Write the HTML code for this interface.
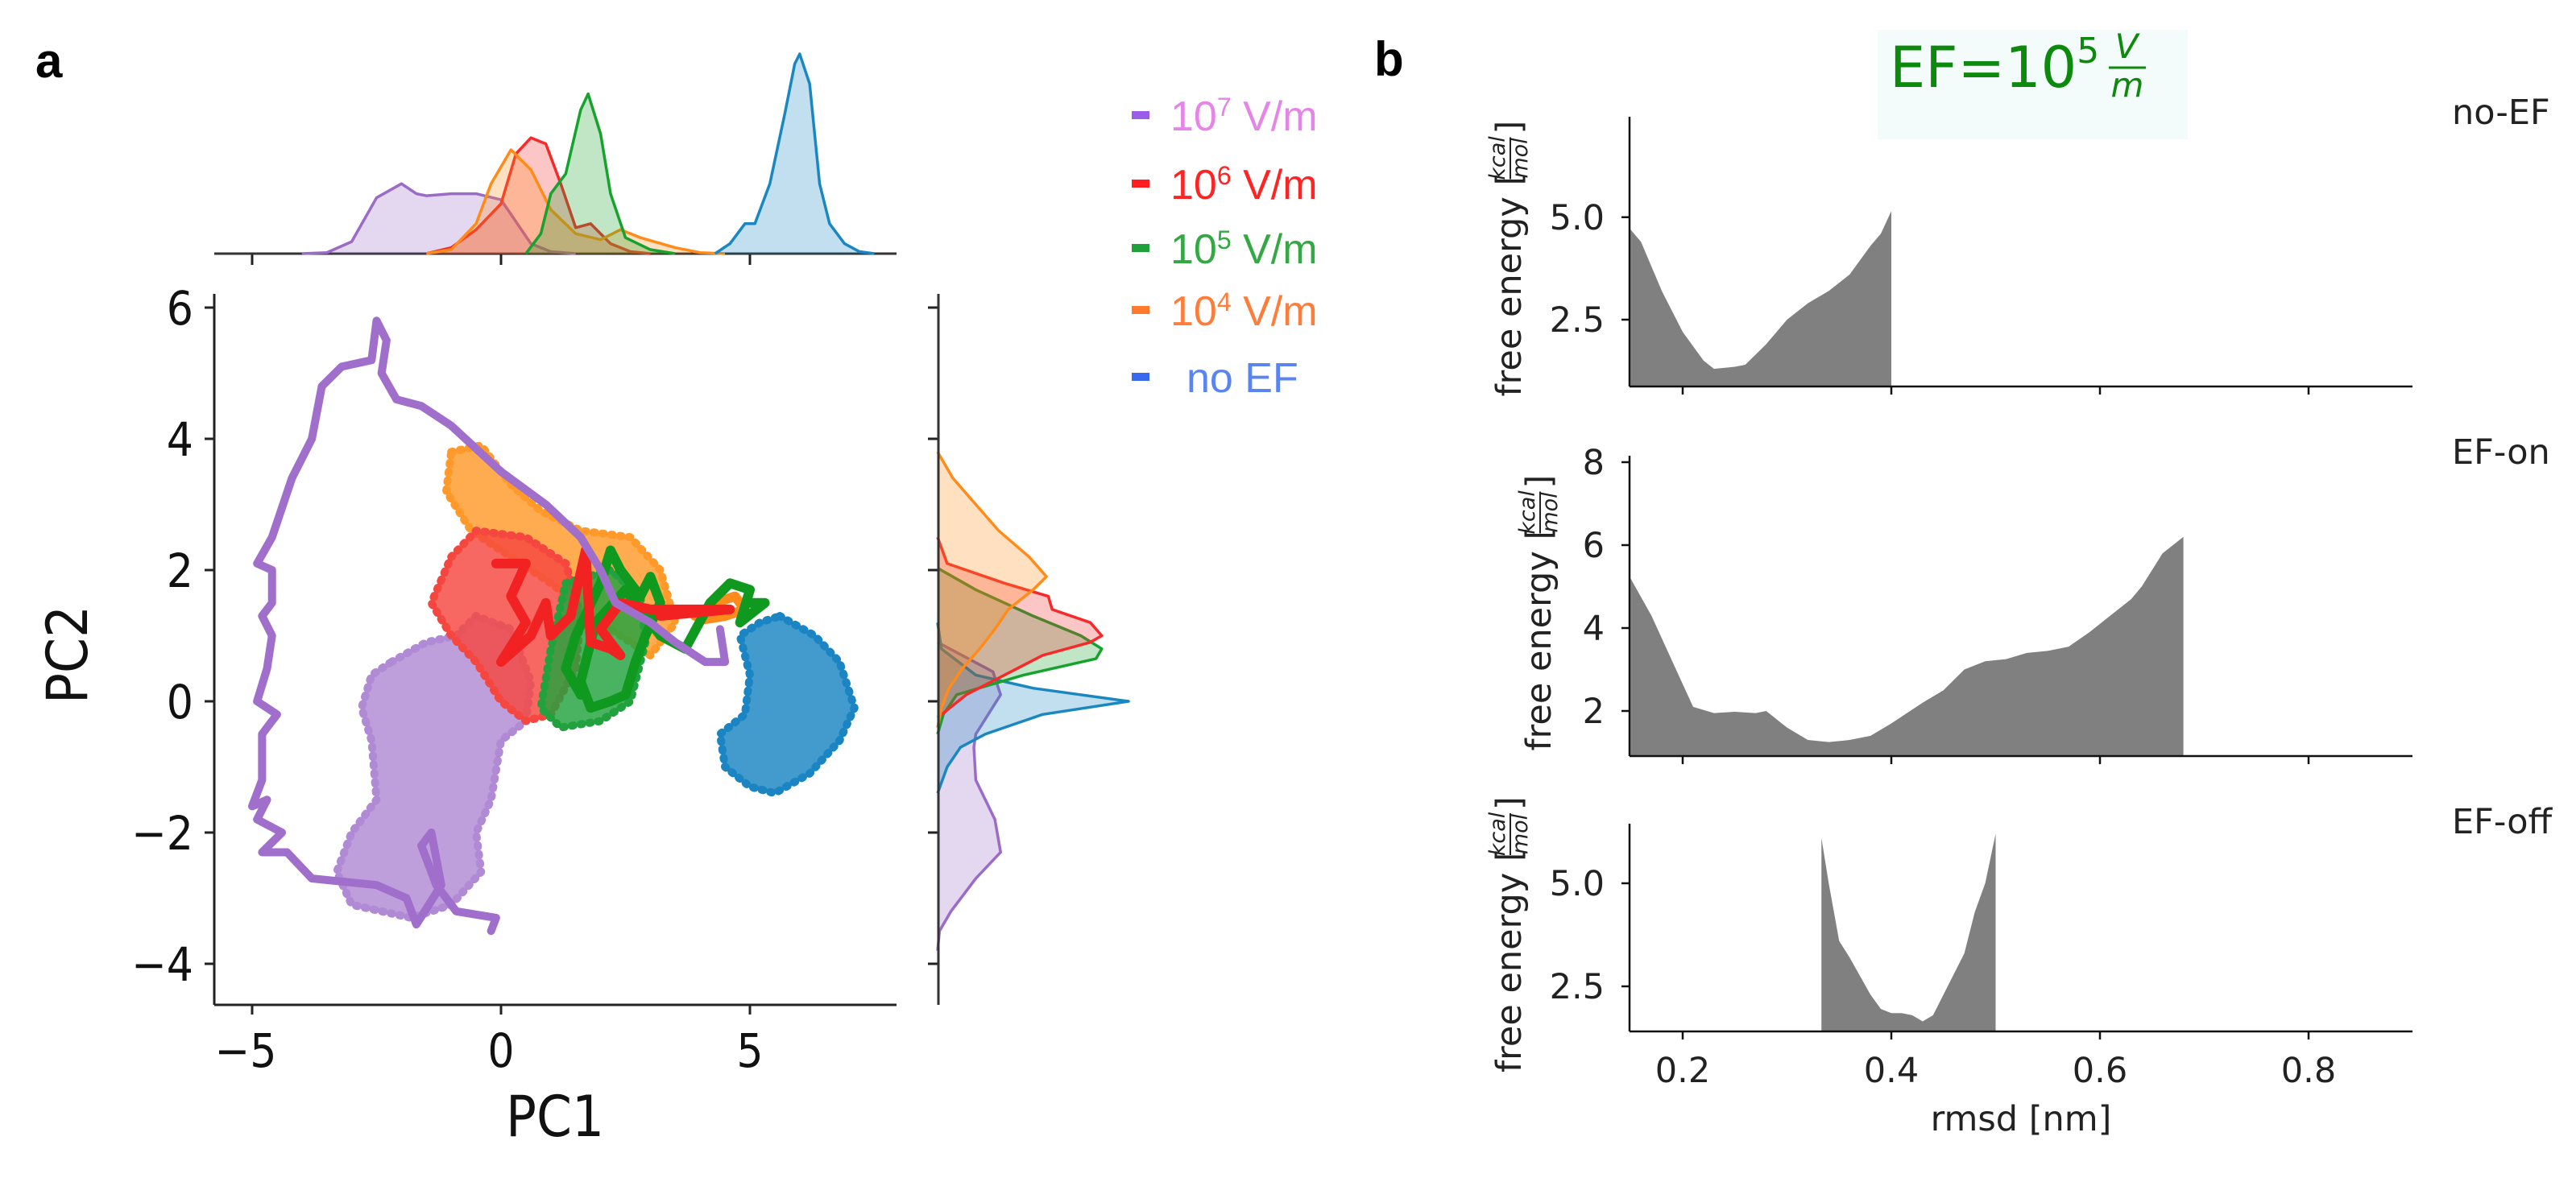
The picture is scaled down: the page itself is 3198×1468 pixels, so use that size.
<!DOCTYPE html>
<html><head><meta charset="utf-8">
<style>
html,body{margin:0;padding:0;background:#fff;}
svg{display:block;}
.pa{font-family:"DejaVu Sans Condensed","Liberation Sans Narrow","Liberation Sans",sans-serif;}
.pb{font-family:"DejaVu Sans","Liberation Sans",sans-serif;}
</style></head>
<body>
<svg id="fig" width="3198" height="1468" viewBox="0 0 3198 1468" xmlns="http://www.w3.org/2000/svg">
  <rect x="0" y="0" width="3198" height="1468" fill="#fff"/>
  <text x="44" y="96" font-family="Liberation Sans, sans-serif" font-weight="bold" font-size="60">a</text>
  <text x="1706" y="94" font-family="Liberation Sans, sans-serif" font-weight="bold" font-size="60">b</text>
  <g id="pa" class="pa"></g>
  <g id="pb" class="pb"></g>
</svg>
<script>
// ---------- Panel a data ----------
const seriesNames = ["1e7", "1e6", "1e5", "1e4", "noEF"];
const seriesColors = {"1e7":"#9b6bc8","1e6":"#f52b2b","1e5":"#17a22e","1e4":"#ff8c1a","noEF":"#1b87c0"};
const xTicksA = [-5, 0, 5];
const yTicksA = [-4, -2, 0, 2, 4, 6];
// cloud outlines (PC1, PC2)
const cloud1e7X = [-2.2,-1.5,-0.9,-0.5,0.2,0.6,0.5,0.0,-0.2,-0.5,-0.4,-1.0,-1.8,-3.0,-3.3,-3.0,-2.5,-2.6,-2.8,-2.6];
const cloud1e7Y = [0.6,0.9,1.0,1.3,1.1,0.3,-0.3,-0.6,-1.5,-2.0,-2.6,-3.1,-3.3,-3.1,-2.6,-2.0,-1.5,-0.6,-0.1,0.4];
const cloud1e4X = [-1.0,-0.4,0.2,0.8,1.6,2.6,3.2,3.5,3.0,2.0,1.0,0.0,-0.6,-1.1];
const cloud1e4Y = [3.8,3.9,3.3,2.9,2.6,2.5,2.0,1.2,0.7,1.2,1.8,2.3,2.6,3.2];
const cloud1e6X = [-1.0,-0.5,0.5,1.3,1.6,1.5,1.0,0.5,0.0,-0.5,-1.0,-1.4];
const cloud1e6Y = [2.2,2.6,2.5,2.1,1.3,0.5,-0.2,-0.3,0.0,0.6,1.0,1.5];
const cloud1e5X = [1.3,2.2,2.8,2.9,2.6,2.0,1.2,0.8,1.0];
const cloud1e5Y = [1.8,2.0,1.6,0.9,0.0,-0.3,-0.4,-0.1,0.8];
const cloudNoEFX = [5.6,6.3,6.8,7.1,6.8,6.2,5.5,5.0,4.5,4.4,4.9,5.0,4.8,5.2];
const cloudNoEFY = [1.3,1.0,0.6,-0.1,-0.6,-1.1,-1.4,-1.3,-1.0,-0.5,-0.2,0.4,1.0,1.2];
// trajectories
const traj1e7X = [-0.2,-0.1,-0.9,-1.3,-1.6,-1.4,-1.2,-1.7,-1.9,-2.5,-3.8,-4.3,-4.8,-4.4,-4.9,-4.7,-5.0,-4.8,-4.8,-4.5,-4.9,-4.7,-4.6,-4.8,-4.6,-4.6,-4.9,-4.6,-4.2,-3.8,-3.6,-3.2,-2.6,-2.5,-2.3,-2.4,-2.1,-1.6,-1.0,0.0,0.9,1.6,2.0,2.3,3.0,3.5,4.1,4.5,4.4];
const traj1e7Y = [-3.5,-3.3,-3.2,-2.8,-2.2,-2.0,-2.8,-3.4,-3.0,-2.8,-2.7,-2.3,-2.3,-2.0,-1.8,-1.5,-1.6,-1.2,-0.5,-0.2,0.0,0.5,1.0,1.3,1.5,2.0,2.1,2.5,3.4,4.0,4.8,5.1,5.2,5.8,5.5,5.0,4.6,4.5,4.2,3.5,3.0,2.5,2.0,1.5,1.2,0.9,0.6,0.6,1.1];
const traj1e6X = [-0.1,0.2,0.5,0.2,0.5,0.0,0.6,0.9,1.0,1.4,1.7,1.8,2.2,2.4,2.0,2.4,3.0,4.6,3.2];
const traj1e6Y = [2.1,2.1,2.1,1.6,1.2,0.6,1.0,1.5,1.0,1.3,2.3,0.9,0.8,0.7,1.1,1.5,1.4,1.4,1.3];
const traj1e5X = [1.6,1.3,1.5,2.0,2.2,2.4,2.8,3.0,3.2,2.9,2.7,2.5,2.2,1.8,1.6,1.9,2.5,3.2,3.7,4.2,4.6,5.0,4.8,5.3,5.0];
const traj1e5Y = [0.1,0.5,1.0,1.8,2.3,2.0,1.6,1.9,1.5,1.0,0.6,0.1,0.0,-0.1,0.3,1.2,1.7,1.0,0.8,1.5,1.8,1.7,1.2,1.5,1.5];
const traj1e4X = [3.9,4.3,4.7,4.9,4.5,4.1];
const traj1e4Y = [1.3,1.5,1.6,1.4,1.3,1.25];
// top marginal KDE (PC1 -> relative density)
const kdeTop1e7X = [-4,-3.5,-3,-2.5,-2,-1.7,-1.5,-1,-0.5,0,0.3,0.6,1,1.5];
const kdeTop1e7D = [0,0.005,0.06,0.28,0.35,0.3,0.29,0.3,0.3,0.27,0.16,0.05,0.01,0];
const kdeTop1e6X = [-1.5,-1,-0.5,0,0.3,0.6,0.9,1.2,1.5,1.8,2.2,2.6,3];
const kdeTop1e6D = [0,0.03,0.12,0.25,0.5,0.58,0.55,0.35,0.13,0.15,0.05,0.01,0];
const kdeTop1e4X = [-1.5,-1,-0.5,-0.2,0.2,0.6,1.0,1.5,2.0,2.4,2.8,3.5,4,4.5];
const kdeTop1e4D = [0,0.02,0.15,0.35,0.52,0.42,0.22,0.1,0.07,0.12,0.08,0.03,0.005,0];
const kdeTop1e5X = [0.5,0.8,1.0,1.3,1.6,1.75,2.0,2.2,2.5,3.0,3.5];
const kdeTop1e5D = [0,0.1,0.3,0.4,0.72,0.8,0.6,0.3,0.08,0.02,0];
const kdeTopNoEFX = [4.3,4.6,4.9,5.1,5.4,5.7,5.9,6.0,6.2,6.4,6.6,6.9,7.2,7.5];
const kdeTopNoEFD = [0,0.05,0.15,0.15,0.35,0.7,0.95,1.0,0.85,0.35,0.15,0.05,0.01,0];
// right marginal KDE (PC2 -> relative density)
const kdeRight1e4Y = [3.8,3.4,3.0,2.6,2.2,1.9,1.7,1.4,1.1,0.8,0.5,0.2,-0.1,-0.4];
const kdeRight1e4D = [0,0.08,0.2,0.32,0.48,0.57,0.5,0.37,0.3,0.22,0.13,0.06,0.02,0];
const kdeRight1e6Y = [2.5,2.1,1.8,1.6,1.4,1.2,1.0,0.9,0.7,0.4,0.1,-0.25];
const kdeRight1e6D = [0,0.05,0.35,0.58,0.6,0.8,0.86,0.8,0.55,0.35,0.15,0];
const kdeRight1e5Y = [2.03,1.7,1.3,1.0,0.8,0.65,0.4,0.1,-0.2,-0.5];
const kdeRight1e5D = [0,0.2,0.5,0.75,0.86,0.83,0.45,0.1,0.03,0];
const kdeRightNoEFY = [1.2,0.8,0.4,0.2,0,-0.2,-0.5,-0.7,-1.0,-1.4];
const kdeRightNoEFD = [0,0.02,0.2,0.5,1.0,0.55,0.25,0.12,0.05,0];
const kdeRight1e7Y = [0.9,0.45,0.1,-0.5,-0.7,-1.2,-1.8,-2.3,-2.7,-3.2,-3.5,-3.8];
const kdeRight1e7D = [0,0.29,0.33,0.2,0.19,0.2,0.3,0.33,0.2,0.07,0.01,0];
// legend
const legendLabels = [["10","7"," V/m"],["10","6"," V/m"],["10","5"," V/m"],["10","4"," V/m"],["","","no EF"]];
const legendTextColors = ["#e585e8","#ff2424","#34a844","#ff7d3a","#5a84f2"];
const legendMarkColors = ["#9b5ce8","#ff1f1f","#1fa03a","#ff7a2a","#3a68f0"];

// ---------- Panel b data ----------
const rmsdTicks = [0.2, 0.4, 0.6, 0.8];
const panelNames = ["no-EF", "EF-on", "EF-off"];
const noEF_rmsd = [0.15,0.16,0.18,0.20,0.22,0.23,0.25,0.26,0.28,0.30,0.32,0.34,0.36,0.38,0.39,0.40];
const noEF_fe =   [4.7,4.4,3.2,2.2,1.5,1.3,1.35,1.4,1.9,2.5,2.9,3.2,3.6,4.3,4.6,5.15];
const efOn_rmsd = [0.15,0.17,0.19,0.21,0.23,0.25,0.27,0.28,0.30,0.32,0.34,0.36,0.38,0.40,0.43,0.45,0.47,0.49,0.51,0.53,0.55,0.57,0.59,0.61,0.63,0.64,0.66,0.68];
const efOn_fe =   [5.2,4.3,3.2,2.1,1.95,1.98,1.95,2.0,1.6,1.3,1.25,1.3,1.4,1.7,2.2,2.5,3.0,3.2,3.25,3.4,3.45,3.55,3.9,4.3,4.7,5.0,5.8,6.2];
const efOff_rmsd = [0.333,0.34,0.35,0.36,0.38,0.39,0.40,0.41,0.42,0.43,0.44,0.45,0.47,0.48,0.49,0.50];
const efOff_fe =   [6.1,5.0,3.6,3.2,2.3,1.95,1.85,1.85,1.8,1.65,1.8,2.3,3.3,4.3,5.0,6.2];
const yTicks1 = [2.5, 5.0];
const yTicks2 = [2, 4, 6, 8];
const yTicks3 = [2.5, 5.0];

const NS = "http://www.w3.org/2000/svg";
function mk(tag, attrs, parent){
  const e = document.createElementNS(NS, tag);
  for (const k in attrs) e.setAttribute(k, attrs[k]);
  parent.appendChild(e);
  return e;
}
const pa = document.getElementById("pa");
const pb = document.getElementById("pb");

// ---- panel a scales ----
const ax = u => 622 + 61.8 * u;
const ay = v => 871 - 81.5 * v;
const tyA = d => 315 - 248 * d;
const rxA = d => 1164 + 237 * d;
const AX_L = 266, AX_R = 1113, AX_T = 365, AX_B = 1248;

let e;
e = mk("line",{x1:AX_L,y1:AX_T,x2:AX_L,y2:AX_B,stroke:"#222","stroke-width":3},pa);


e = mk("line",{x1:AX_L,y1:AX_B,x2:AX_R,y2:AX_B,stroke:"#222","stroke-width":3},pa);


xTicksA.forEach(t=>{
  const tk = mk("line",{x1:ax(t),y1:AX_B,x2:ax(t),y2:AX_B+12,stroke:"#222","stroke-width":3},pa);
  
  
  const lb = mk("text",{x:ax(t)-(t<0?8:0),y:1325,"font-size":58,"text-anchor":"middle",fill:"#111"},pa);
  lb.textContent = t<0 ? "\u2212"+Math.abs(t) : String(t);
  
  
  const tt = mk("line",{x1:ax(t),y1:315,x2:ax(t),y2:329,stroke:"#222","stroke-width":3},pa);
  
  
});
yTicksA.forEach(t=>{
  const tk = mk("line",{x1:AX_L-12,y1:ay(t),x2:AX_L,y2:ay(t),stroke:"#222","stroke-width":3},pa);
  
  
  const lb = mk("text",{x:240,y:ay(t)+21,"font-size":58,"text-anchor":"end",fill:"#111"},pa);
  lb.textContent = t<0 ? "\u2212"+Math.abs(t) : String(t);
  
  
  const rt = mk("line",{x1:1152,y1:ay(t),x2:1165,y2:ay(t),stroke:"#222","stroke-width":3},pa);
  
  
});
e = mk("text",{x:689,y:1411,"font-size":70,"text-anchor":"middle",fill:"#111"},pa);
e.textContent = "PC1";


e = mk("text",{x:0,y:0,"font-size":70,"text-anchor":"middle",fill:"#111",transform:"translate(108,813) rotate(-90)"},pa);
e.textContent = "PC2";



function cloud(xs, ys, color, name){
  const pts = xs.map((x,i)=>ax(x)+","+ay(ys[i])).join(" ");
  const p = mk("polygon",{points:pts,fill:color,"fill-opacity":0.82,stroke:color,"stroke-width":10,"stroke-dasharray":"2 9","stroke-linecap":"round","stroke-linejoin":"round"},pa);
  
  
}
cloud(cloud1e7X, cloud1e7Y, "#b08ad4", "scatter-cloud-1e7");
cloud(cloud1e4X, cloud1e4Y, "#ff9a2a", "scatter-cloud-1e4");
cloud(cloud1e6X, cloud1e6Y, "#f5473f", "scatter-cloud-1e6");
cloud(cloud1e5X, cloud1e5Y, "#22a23e", "scatter-cloud-1e5");
cloud(cloudNoEFX, cloudNoEFY, "#1a85c2", "scatter-cloud-no-ef");

function traj(xs, ys, color, w, name){
  const pts = xs.map((x,i)=>ax(x)+","+ay(ys[i])).join(" ");
  const p = mk("polyline",{points:pts,fill:"none",stroke:color,"stroke-width":w,"stroke-linejoin":"round","stroke-linecap":"round"},pa);
  
  
}
traj(traj1e4X, traj1e4Y, "#ff8c1a", 12, "trajectory-1e4");
traj(traj1e5X, traj1e5Y, "#0f9a1f", 12, "trajectory-1e5");
traj(traj1e6X, traj1e6Y, "#f22222", 12, "trajectory-1e6");
traj(traj1e7X, traj1e7Y, "#a06ecb", 10, "trajectory-1e7");

e = mk("line",{x1:AX_L,y1:315,x2:AX_R,y2:315,stroke:"#333","stroke-width":3},pa);


function kdeTop(xs, ds, color, name){
  const pts = xs.map((x,i)=>ax(x)+","+tyA(ds[i]));
  const f = mk("polygon",{points:[ax(xs[0])+",315"].concat(pts,[ax(xs[xs.length-1])+",315"]).join(" "),fill:color,"fill-opacity":0.27,stroke:"none"},pa);
  
  
  const l = mk("polyline",{points:pts.join(" "),fill:"none",stroke:color,"stroke-width":3.5,"stroke-linejoin":"round"},pa);
  
  
}
kdeTop(kdeTop1e7X, kdeTop1e7D, seriesColors["1e7"], "top-kde-1e7");
kdeTop(kdeTop1e6X, kdeTop1e6D, seriesColors["1e6"], "top-kde-1e6");
kdeTop(kdeTop1e4X, kdeTop1e4D, seriesColors["1e4"], "top-kde-1e4");
kdeTop(kdeTop1e5X, kdeTop1e5D, seriesColors["1e5"], "top-kde-1e5");
kdeTop(kdeTopNoEFX, kdeTopNoEFD, seriesColors["noEF"], "top-kde-no-ef");

function kdeRight(ys, ds, color, name){
  const pts = ys.map((y,i)=>rxA(ds[i])+","+ay(y));
  const f = mk("polygon",{points:["1164,"+ay(ys[0])].concat(pts,["1164,"+ay(ys[ys.length-1])]).join(" "),fill:color,"fill-opacity":0.27,stroke:"none"},pa);
  
  
  const l = mk("polyline",{points:pts.join(" "),fill:"none",stroke:color,"stroke-width":3.5,"stroke-linejoin":"round"},pa);
  
  
}
kdeRight(kdeRight1e7Y, kdeRight1e7D, seriesColors["1e7"], "right-kde-1e7");
kdeRight(kdeRightNoEFY, kdeRightNoEFD, seriesColors["noEF"], "right-kde-no-ef");
kdeRight(kdeRight1e5Y, kdeRight1e5D, seriesColors["1e5"], "right-kde-1e5");
kdeRight(kdeRight1e6Y, kdeRight1e6D, seriesColors["1e6"], "right-kde-1e6");
kdeRight(kdeRight1e4Y, kdeRight1e4D, seriesColors["1e4"], "right-kde-1e4");
e = mk("line",{x1:1165,y1:AX_T,x2:1165,y2:AX_B,stroke:"#333","stroke-width":3},pa);



const legRows = [143,228,308,385,468];
legendLabels.forEach((lab,i)=>{
  const m = mk("rect",{x:1405,y:legRows[i]-5,width:22,height:10,fill:legendMarkColors[i]},pa);
  
  
  const t = mk("text",{x: lab[0]? 1453 : 1473, y:legRows[i]+19,"font-size":52,fill:legendTextColors[i],"font-family":"Liberation Sans, sans-serif"},pa);
  
  
  if (lab[0]) {
    const a = mk("tspan",{},t); a.textContent = lab[0];
    const b = mk("tspan",{"font-size":32,dy:-18}, t); b.textContent = lab[1];
    const c = mk("tspan",{dy:18}, t); c.textContent = lab[2];
  } else {
    t.textContent = lab[2];
  }
});

// ---- panel b ----
const bx = r => 2089 + (r - 0.2) * 1295;
const BX_L = 2023, BX_R = 2995;
const panels = [
  {top:145, bottom:480, v0:2.5, y0:397, ppu:50.9, ticks:yTicks1, xs:noEF_rmsd, ys:noEF_fe, fmt:1, lx:1888, name:"no-EF", ty:154},
  {top:566, bottom:939, v0:2, y0:883, ppu:51.5, ticks:yTicks2, xs:efOn_rmsd, ys:efOn_fe, fmt:0, lx:1925, name:"EF-on", ty:576},
  {top:1023, bottom:1281, v0:2.5, y0:1225, ppu:51.2, ticks:yTicks3, xs:efOff_rmsd, ys:efOff_fe, fmt:1, lx:1888, name:"EF-off", ty:1035}
];
panels.forEach((P, pi)=>{
  const yf = v => P.y0 - (v - P.v0) * P.ppu;
  const g = mk("g",{},pb);
  
  
  const pts = P.xs.map((x,i)=>bx(x)+","+yf(P.ys[i]));
  const area = mk("polygon",{points:[bx(P.xs[0])+","+P.bottom].concat(pts,[bx(P.xs[P.xs.length-1])+","+P.bottom]).join(" "),fill:"#808080"},g);
  
  
  const ya = mk("line",{x1:BX_L,y1:P.top,x2:BX_L,y2:P.bottom,stroke:"#111","stroke-width":2.5},g);
  
  
  const xa = mk("line",{x1:BX_L,y1:P.bottom,x2:BX_R,y2:P.bottom,stroke:"#111","stroke-width":2.5},g);
  
  
  P.ticks.forEach(t=>{
    const tk = mk("line",{x1:BX_L-10,y1:yf(t),x2:BX_L,y2:yf(t),stroke:"#111","stroke-width":2.5},g);
    
    
    const lb = mk("text",{x:1992,y:yf(t)+15,"font-size":43,"text-anchor":"end",fill:"#222"},g);
    lb.textContent = P.fmt ? t.toFixed(1) : String(t);
    
    
  });
  rmsdTicks.forEach(t=>{
    const tk = mk("line",{x1:bx(t),y1:P.bottom,x2:bx(t),y2:P.bottom+10,stroke:"#111","stroke-width":2.5},g);
    
    
    if (pi === 2) {
      const lb = mk("text",{x:bx(t),y:1344,"font-size":43,"text-anchor":"middle",fill:"#222"},g);
      lb.textContent = t.toFixed(1);
      
      
    }
  });
  const mid = (P.top + P.bottom) / 2;
  const lbg = mk("g",{transform:"translate("+P.lx+","+(mid+180)+") rotate(-90)"},g);
  
  
  const t1 = mk("text",{x:0,y:0,"font-size":43,fill:"#222"},lbg);
  t1.textContent = "free energy [";
  const t2 = mk("text",{x:296,y:-20,"font-size":27,"font-style":"italic",fill:"#222","text-anchor":"middle"},lbg);
  t2.textContent = "kcal";
  const t3 = mk("text",{x:296,y:8,"font-size":27,"font-style":"italic",fill:"#222","text-anchor":"middle"},lbg);
  t3.textContent = "mol";
  mk("line",{x1:270,y1:-13,x2:322,y2:-13,stroke:"#222","stroke-width":2},lbg);
  const t4 = mk("text",{x:326,y:0,"font-size":43,fill:"#222"},lbg);
  t4.textContent = "]";
  const nm = mk("text",{x:3044,y:P.ty,"font-size":43,fill:"#222"},g);
  nm.textContent = P.name;
  
  
});
e = mk("text",{x:2509,y:1404,"font-size":43,"text-anchor":"middle",fill:"#222"},pb);
e.textContent = "rmsd [nm]";


e = mk("rect",{x:2331,y:37,width:385,height:136,fill:"#f4fbfb"},pb);


const tt = mk("text",{x:2346,y:108,"font-size":70,fill:"#0d8a0d"},pb);


let s1 = mk("tspan",{},tt); s1.textContent = "EF=10";
let s2 = mk("tspan",{"font-size":44,dy:-30},tt); s2.textContent = "5";
e = mk("text",{x:2640,y:72,"font-size":42,"font-style":"italic",fill:"#0d8a0d","text-anchor":"middle"},pb);
e.textContent = "V";


mk("line",{x1:2618,y1:84,x2:2664,y2:84,stroke:"#0d8a0d","stroke-width":3},pb);
e = mk("text",{x:2641,y:120,"font-size":42,"font-style":"italic",fill:"#0d8a0d","text-anchor":"middle"},pb);
e.textContent = "m";


</script>
</body></html>
